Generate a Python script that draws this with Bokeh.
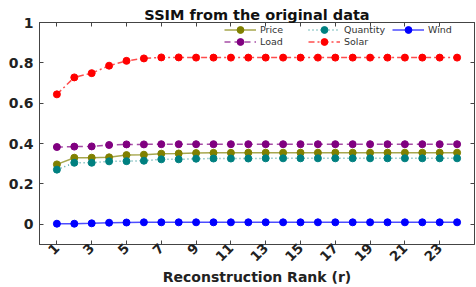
import math
from bokeh.plotting import figure
from bokeh.models import Legend, LegendItem, LinearAxis, FixedTicker
from bokeh.embed import file_html
from bokeh.resources import INLINE

ranks = list(range(1, 25))
price = [0.297, 0.330, 0.330, 0.332, 0.343, 0.345, 0.350, 0.351, 0.353, 0.354, 0.354, 0.355,
         0.355, 0.355, 0.355, 0.355, 0.355, 0.355, 0.355, 0.355, 0.355, 0.355, 0.355, 0.355]
quantity = [0.271, 0.305, 0.305, 0.312, 0.313, 0.315, 0.322, 0.322, 0.325, 0.326, 0.326, 0.326,
            0.327, 0.327, 0.327, 0.327, 0.327, 0.327, 0.327, 0.327, 0.327, 0.327, 0.327, 0.327]
wind = [0.003, 0.003, 0.005, 0.008, 0.009, 0.010, 0.010, 0.010, 0.010, 0.010, 0.010, 0.010,
        0.010, 0.010, 0.010, 0.010, 0.010, 0.010, 0.010, 0.010, 0.010, 0.010, 0.010, 0.010]
load = [0.383, 0.385, 0.386, 0.393, 0.396, 0.396, 0.397, 0.397, 0.397, 0.397, 0.397, 0.397,
        0.397, 0.397, 0.397, 0.397, 0.397, 0.397, 0.397, 0.397, 0.397, 0.397, 0.397, 0.397]
solar = [0.644, 0.728, 0.749, 0.786, 0.810, 0.822, 0.827, 0.827, 0.826, 0.826, 0.826, 0.826,
         0.826, 0.826, 0.826, 0.826, 0.826, 0.826, 0.826, 0.826, 0.826, 0.826, 0.826, 0.826]

x_ticks = [1, 3, 5, 7, 9, 11, 13, 15, 17, 19, 21, 23]
y_ticks = [0, 0.2, 0.4, 0.6, 0.8, 1]
title_text = "SSIM from the original data"

FONT = "DejaVu Sans"
AX = "#444444"

p = figure(width=476, height=287, x_range=(0, 25), y_range=(-0.1, 1),
           output_backend="svg", toolbar_location=None,
           min_border_left=39, min_border_right=2, min_border_top=22, min_border_bottom=0)
p.title.text = title_text
p.title.align = "center"
p.title.text_font = FONT
p.title.text_font_size = "14.5px"
p.title.text_font_style = "bold"
p.title.text_color = "#111111"
p.title.standoff = 0
p.grid.visible = False
p.outline_line_color = AX
p.outline_line_alpha = 1

def style_axis(ax):
    ax.axis_line_color = AX
    ax.major_tick_line_color = AX
    ax.major_tick_in = 4
    ax.major_tick_out = 0
    ax.minor_tick_line_color = None
    ax.major_label_text_font = FONT
    ax.major_label_text_font_style = "bold"
    ax.major_label_text_font_size = "14px"
    ax.major_label_text_color = "#222222"

xa = p.xaxis[0]
style_axis(xa)
xa.ticker = FixedTicker(ticks=x_ticks)
xa.major_label_orientation = math.pi / 4
xa.major_label_text_font_size = "13.5px"
xa.axis_label = "Reconstruction Rank (r)"
xa.axis_label_text_font = FONT
xa.axis_label_text_font_style = "bold"
xa.axis_label_text_font_size = "14px"
xa.axis_label_text_color = "#222222"
xa.axis_label_standoff = 0
xa.major_label_standoff = 1

ya = p.yaxis[0]
style_axis(ya)
ya.ticker = FixedTicker(ticks=y_ticks)
ya.major_label_overrides = {0: "0", 1: "1"}
ya.major_label_standoff = 6

top = LinearAxis(ticker=FixedTicker(ticks=x_ticks))
style_axis(top)
top.major_label_overrides = {t: "" for t in x_ticks}
top.major_label_standoff = 0
p.add_layout(top, "above")

right = LinearAxis(ticker=FixedTicker(ticks=y_ticks))
style_axis(right)
right.major_label_overrides = {t: "" for t in y_ticks}
right.major_label_standoff = 0
p.add_layout(right, "right")

series = [
    ("Price", price, "#808000", "solid"),
    ("Load", load, "#800080", "6 4"),
    ("Quantity", quantity, "#008080", "1 3"),
    ("Solar", solar, "#ff0000", "6 3 2 3"),
    ("Wind", wind, "#0000ff", "solid"),
]
rends = {}
for name, vals, col, dash in series:
    l = p.line(ranks, vals, line_color=col, line_width=1.5, line_alpha=0.7, line_dash=dash)
    s = p.scatter(ranks, vals, size=7, fill_color=col, line_color=col, marker="circle")
    rends[name] = [l, s]

def make_legend(names, y):
    leg = Legend(items=[LegendItem(label=n, renderers=rends[n]) for n in names],
                 location=(185, y), orientation="horizontal",
                 background_fill_alpha=0, border_line_color=None,
                 label_text_font=FONT, label_text_font_size="9.5px",
                 label_text_color="#333333",
                 glyph_width=32, glyph_height=17, label_height=17, label_width=48,
                 label_standoff=4, spacing=0, padding=0, margin=0)
    p.add_layout(leg, "center")

make_legend(["Price", "Quantity", "Wind"], 206)
make_legend(["Load", "Solar"], 194)

open("out.html", "w").write(file_html(p, INLINE))
